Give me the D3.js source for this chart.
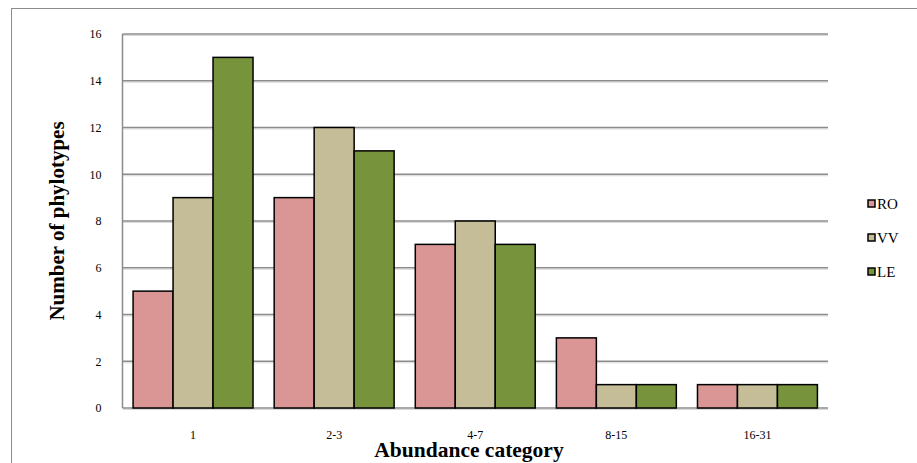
<!DOCTYPE html>
<html>
<head>
<meta charset="utf-8">
<script src="https://cdn.jsdelivr.net/npm/d3@7/dist/d3.min.js"></script>
<style>
  html, body { margin: 0; padding: 0; background: #fff; }
  svg { display: block; }
</style>
</head>
<body>
<svg id="chart" width="917" height="463"></svg>
<script>
// Phylotype counts per abundance category for three sites
const categories = ["1", "2-3", "4-7", "8-15", "16-31"];
const seriesNames = ["RO", "VV", "LE"];
const RO = [5, 9, 7, 3, 1];
const VV = [9, 12, 8, 1, 1];
const LE = [15, 11, 7, 1, 1];
const yTicks = [0, 2, 4, 6, 8, 10, 12, 14, 16];
const colors = { RO: "#D99694", VV: "#C4BD97", LE: "#77933C" };

const series = { RO, VV, LE };
const svg = d3.select("#chart");
const font = "'Liberation Serif', 'Times New Roman', serif";

// frame around the chart area
svg.append("rect")
  .attr("x", 11.5).attr("y", 8.5)
  .attr("width", 940).attr("height", 480)
  .attr("fill", "none").attr("stroke", "#8c8c8c").attr("stroke-width", 1);

const plot = { left: 122.5, right: 828, top: 34, bottom: 408 };

const x = d3.scaleBand().domain(categories)
  .range([plot.left, plot.right]).paddingInner(0.15).paddingOuter(0.075);
const xs = d3.scaleBand().domain(seriesNames).range([0, x.bandwidth()]);
const y = d3.scaleLinear().domain([0, 16]).range([plot.bottom, plot.top]);

// horizontal gridlines
const grid = svg.append("g");
grid.selectAll("line.shadow").data(yTicks).join("line")
  .attr("x1", plot.left).attr("x2", plot.right)
  .attr("y1", d => y(d) + 1.5).attr("y2", d => y(d) + 1.5)
  .attr("stroke", "#d9d9d9").attr("stroke-width", 1);
grid.selectAll("line.main").data(yTicks).join("line")
  .attr("x1", plot.left).attr("x2", plot.right)
  .attr("y1", d => y(d)).attr("y2", d => y(d))
  .attr("stroke", "#8c8c8c").attr("stroke-width", 1.5);

// y axis line
svg.append("line")
  .attr("x1", plot.left).attr("x2", plot.left)
  .attr("y1", plot.top).attr("y2", plot.bottom)
  .attr("stroke", "#8c8c8c").attr("stroke-width", 1.5);

// y tick labels
const yAxis = d3.axisLeft(y).tickValues(yTicks).tickSize(0).tickPadding(21);
const yg = svg.append("g").attr("transform", `translate(${plot.left},0)`).call(yAxis);
yg.select(".domain").remove();
yg.selectAll("text").attr("font-family", font).attr("font-size", 12).attr("fill", "#000");

// x tick labels
const xAxis = d3.axisBottom(x).tickSize(0).tickPadding(22);
const xg = svg.append("g").attr("transform", `translate(0,${plot.bottom})`).call(xAxis);
xg.select(".domain").remove();
xg.selectAll("text").attr("font-family", font).attr("font-size", 12).attr("fill", "#000");

// bars
const groups = svg.append("g").selectAll("g").data(categories).join("g")
  .attr("transform", d => `translate(${x(d)},0)`);
groups.selectAll("rect").data((c, i) => seriesNames.map(s => ({ s, v: series[s][i] })))
  .join("rect")
  .attr("x", d => xs(d.s))
  .attr("y", d => y(d.v))
  .attr("width", xs.bandwidth())
  .attr("height", d => y(0) - y(d.v))
  .attr("fill", d => colors[d.s])
  .attr("stroke", "#000").attr("stroke-width", 1.5);

// axis titles
svg.append("text")
  .attr("x", 469).attr("y", 457)
  .attr("text-anchor", "middle")
  .attr("font-family", font).attr("font-weight", "bold").attr("font-size", 21.5)
  .text("Abundance category");
svg.append("text")
  .attr("transform", "translate(64,221) rotate(-90)")
  .attr("text-anchor", "middle")
  .attr("font-family", font).attr("font-weight", "bold").attr("font-size", 21)
  .text("Number of phylotypes");

// legend
const legend = svg.append("g").selectAll("g").data(seriesNames).join("g")
  .attr("transform", (d, i) => `translate(868,${204 + i * 34})`);
legend.append("rect")
  .attr("x", 0).attr("y", -4).attr("width", 7).attr("height", 7)
  .attr("fill", d => colors[d]).attr("stroke", "#000").attr("stroke-width", 1.5);
legend.append("text")
  .attr("x", 9).attr("y", 5)
  .attr("font-family", font).attr("font-size", 15)
  .text(d => d);
</script>
</body>
</html>
